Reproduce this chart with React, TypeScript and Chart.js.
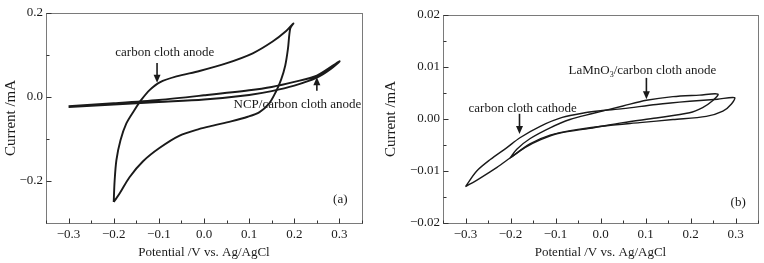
import React, { useEffect, useRef } from 'react';
import { Chart, registerables } from 'chart.js';
Chart.register(...registerables);

// ---------- Panel (a) data ----------
const CC_ANODE_V = [
  -0.2, -0.198, -0.194, -0.185, -0.172, -0.154, -0.139, -0.12, -0.098, -0.061, -0.01, 0.049, 0.108, 0.152, 0.182, 0.198,
  0.191, 0.186, 0.18, 0.171, 0.159, 0.144, 0.123, 0.097, 0.06, 0.02, -0.01, -0.054, -0.098, -0.135, -0.165, -0.187, -0.2,
];
const CC_ANODE_I = [
  -0.25, -0.2, -0.15, -0.103, -0.063, -0.031, -0.007, 0.017, 0.035, 0.049, 0.062, 0.08, 0.104, 0.132, 0.157, 0.175,
  0.163, 0.115, 0.075, 0.042, 0.012, -0.016, -0.036, -0.047, -0.058, -0.068, -0.076, -0.092, -0.121, -0.153, -0.191, -0.23, -0.25,
];
const NCP_V = [-0.3, -0.2, -0.1, 0.0, 0.1, 0.15, 0.2, 0.25, 0.3, 0.28, 0.25, 0.2, 0.15, 0.1, 0.0, -0.1, -0.2, -0.3];
const NCP_I = [-0.022, -0.015, -0.007, 0.004, 0.016, 0.024, 0.036, 0.051, 0.085, 0.066, 0.046, 0.027, 0.014, 0.005, -0.006, -0.012, -0.018, -0.024];

// ---------- Panel (b) data ----------
const CATHODE_V = [
  -0.3, -0.275, -0.245, -0.208, -0.179, -0.134, -0.085, -0.035, 0.0, 0.05, 0.124, 0.198, 0.26, 0.298,
  0.291, 0.272, 0.235, 0.161, 0.087, 0.014, -0.05, -0.112, -0.157, -0.201, -0.23, -0.27, -0.3,
];
const CATHODE_I = [
  -0.013, -0.01, -0.0078, -0.0055, -0.0036, -0.0014, 0.0003, 0.0012, 0.0016, 0.002, 0.0028, 0.0034, 0.0038, 0.0041,
  0.0029, 0.0015, 0.0005, -0.0001, -0.0007, -0.0013, -0.002, -0.0031, -0.0048, -0.0075, -0.0093, -0.0115, -0.013,
];
const LAMNO_V = [
  -0.201, -0.186, -0.157, -0.112, -0.068, -0.02, 0.05, 0.102, 0.161, 0.22, 0.261,
  0.249, 0.227, 0.198, 0.124, 0.05, -0.023, -0.09, -0.134, -0.168, -0.201,
];
const LAMNO_I = [
  -0.0075, -0.0058, -0.0038, -0.0017, -0.0001, 0.001, 0.0025, 0.0036, 0.0043, 0.0046, 0.0048,
  0.0035, 0.0022, 0.0012, 0.0002, -0.0007, -0.0018, -0.0027, -0.004, -0.0055, -0.0075,
];

// ---------- Axes ----------
const X_TICKS = [-0.3, -0.2, -0.1, 0.0, 0.1, 0.2, 0.3];
const X_RANGE = [-0.35, 0.35];
const A_Y_TICKS = [-0.2, 0.0, 0.2];
const A_Y_MINOR = [-0.1, 0.1];
const A_Y_RANGE = [-0.3, 0.2];
const B_Y_TICKS = [-0.02, -0.01, 0.0, 0.01, 0.02];
const B_Y_RANGE = [-0.02, 0.02];

const X_TITLE = 'Potential /V vs. Ag/AgCl';
const Y_TITLE = 'Current /mA';

// ---------- Annotations (data coordinates) ----------
const A_NOTES = [
  { text: 'carbon cloth anode', x: -0.087, y: 0.105 },
  { text: 'NCP/carbon cloth anode', x: 0.207, y: -0.017 },
  { text: '(a)', x: 0.302, y: -0.245 },
];
const A_ARROWS = [
  { x: -0.104, from: 0.081, to: 0.034 },
  { x: 0.25, from: 0.015, to: 0.047 },
];
const B_NOTES = [
  { text: 'LaMnO|3|/carbon cloth anode', x: 0.093, y: 0.0093 },
  { text: 'carbon cloth cathode', x: -0.173, y: 0.0021 },
  { text: '(b)', x: 0.306, y: -0.0161 },
];
const B_ARROWS = [
  { x: 0.102, from: 0.0079, to: 0.0038 },
  { x: -0.18, from: 0.001, to: -0.0029 },
];

const FONT = '"Liberation Serif", "Times New Roman", serif';
const INK = '#1a1a1a';
const FRAME = '#7a7a7a';

const fmt = (d: number) => (v: number) => {
  const s = Math.abs(v) < 1e-9 ? (0).toFixed(d) : Number(v).toFixed(d);
  return s.replace('-', '\u2212');
};

function mids(arr: number[], lo: number, hi: number) {
  const out: number[] = [];
  const step = arr[1] - arr[0];
  for (let v = arr[0] - step / 2; v <= hi + 1e-9; v += step) {
    if (v >= lo - 1e-9) out.push(v);
  }
  return out;
}

function decorPlugin(notes: any[], arrows: any[], yMinor: number[]) {
  return {
    id: 'decor',
    beforeDatasetsDraw(chart: any) {
      const { ctx, scales } = chart;
      const xs = scales.x, ys = scales.y;
      ctx.save();
      ctx.fillStyle = INK;
      ctx.strokeStyle = INK;
      ctx.textBaseline = 'middle';
      for (const n of notes) {
        const cx = xs.getPixelForValue(n.x);
        const cy = ys.getPixelForValue(n.y);
        const parts = String(n.text).split('|');
        if (parts.length === 3) {
          ctx.font = '13px ' + FONT;
          const w1 = ctx.measureText(parts[0]).width;
          const w3 = ctx.measureText(parts[2]).width;
          ctx.font = '8px ' + FONT;
          const w2 = ctx.measureText(parts[1]).width;
          let left = cx - (w1 + w2 + w3) / 2;
          ctx.textAlign = 'left';
          ctx.font = '13px ' + FONT;
          ctx.fillText(parts[0], left, cy);
          ctx.font = '8px ' + FONT;
          ctx.fillText(parts[1], left + w1, cy + 4);
          ctx.font = '13px ' + FONT;
          ctx.fillText(parts[2], left + w1 + w2, cy);
        } else {
          ctx.font = '13px ' + FONT;
          ctx.textAlign = 'center';
          ctx.fillText(n.text, cx, cy);
        }
      }
      for (const a of arrows) {
        const px = xs.getPixelForValue(a.x);
        const p0 = ys.getPixelForValue(a.from);
        const p1 = ys.getPixelForValue(a.to);
        const dir = p1 > p0 ? 1 : -1;
        ctx.lineWidth = 1.6;
        ctx.beginPath();
        ctx.moveTo(px, p0);
        ctx.lineTo(px, p1 - dir * 6);
        ctx.stroke();
        ctx.beginPath();
        ctx.moveTo(px, p1);
        ctx.lineTo(px - 3.5, p1 - dir * 8);
        ctx.lineTo(px + 3.5, p1 - dir * 8);
        ctx.closePath();
        ctx.fill();
      }
      ctx.restore();
    },
    afterDraw(chart: any) {
      const { ctx, chartArea: a, scales } = chart;
      const xs = scales.x, ys = scales.y;
      ctx.save();
      ctx.strokeStyle = FRAME;
      ctx.lineWidth = 1;
      ctx.strokeRect(Math.round(a.left) + 0.5, Math.round(a.top) + 0.5, Math.round(a.right - a.left), Math.round(a.bottom - a.top));
      ctx.strokeStyle = '#333';
      ctx.beginPath();
      const xMajor = xs.ticks.map((t: any) => t.value);
      const xMinor = mids(xMajor, xs.min, xs.max);
      const by = Math.round(a.bottom) + 0.5;
      for (const v of xMajor) {
        const p = Math.round(xs.getPixelForValue(v)) + 0.5;
        ctx.moveTo(p, by); ctx.lineTo(p, by - 5);
      }
      for (const v of xMinor) {
        const p = Math.round(xs.getPixelForValue(v)) + 0.5;
        ctx.moveTo(p, by); ctx.lineTo(p, by - 3);
      }
      const yMajor = ys.ticks.map((t: any) => t.value);
      const lx = Math.round(a.left) + 0.5;
      for (const v of yMajor) {
        const p = Math.round(ys.getPixelForValue(v)) + 0.5;
        ctx.moveTo(lx, p); ctx.lineTo(lx + 5, p);
      }
      for (const v of yMinor) {
        const p = Math.round(ys.getPixelForValue(v)) + 0.5;
        ctx.moveTo(lx, p); ctx.lineTo(lx + 3, p);
      }
      ctx.stroke();
      ctx.restore();
    },
  };
}

function makeConfig(p: {
  series: { v: number[]; i: number[]; w: number }[];
  yRange: number[];
  yTicks: number[];
  yMinor: number[];
  yDec: number;
  yWidth: number;
  top: number;
  right: number;
  notes: any[];
  arrows: any[];
}): any {
  return {
    type: 'scatter',
    data: {
      datasets: p.series.map((s) => ({
        data: s.v.map((v, k) => ({ x: v, y: s.i[k] })),
        showLine: true,
        borderColor: INK,
        borderWidth: s.w,
        pointRadius: 0,
        tension: 0.3,
        fill: false,
      })),
    },
    options: {
      animation: false,
      responsive: false,
      maintainAspectRatio: false,
      layout: { padding: { left: 0, top: p.top, right: p.right, bottom: 0 } },
      plugins: { legend: { display: false }, tooltip: { enabled: false } },
      scales: {
        x: {
          type: 'linear',
          min: X_RANGE[0],
          max: X_RANGE[1],
          afterBuildTicks: (s: any) => { s.ticks = X_TICKS.map((v) => ({ value: v })); },
          afterFit: (s: any) => { s.height = 40; },
          grid: { display: false, drawTicks: false },
          border: { display: false },
          ticks: { callback: fmt(1), font: { family: FONT, size: 13 }, color: INK, padding: 4, maxRotation: 0, autoSkip: false },
          title: { display: true, text: X_TITLE, font: { family: FONT, size: 13 }, color: INK, padding: { top: 0, bottom: 3 } },
        },
        y: {
          type: 'linear',
          min: p.yRange[0],
          max: p.yRange[1],
          afterBuildTicks: (s: any) => { s.ticks = p.yTicks.map((v) => ({ value: v })); },
          afterFit: (s: any) => { s.width = p.yWidth; },
          grid: { display: false, drawTicks: false },
          border: { display: false },
          ticks: { callback: fmt(p.yDec), font: { family: FONT, size: 13 }, color: INK, padding: 3, autoSkip: false },
          title: { display: true, text: Y_TITLE, font: { family: FONT, size: 15 }, color: INK, padding: { top: 2, bottom: 0 } },
        },
      },
    },
    plugins: [decorPlugin(p.notes, p.arrows, p.yMinor)],
  };
}

function Panel({ cfg, left, width }: { cfg: any; left: number; width: number }) {
  const ref = useRef<HTMLCanvasElement>(null);
  useEffect(() => {
    const chart = new Chart(ref.current as HTMLCanvasElement, cfg);
    return () => chart.destroy();
  }, []);
  return (
    <canvas
      ref={ref}
      width={width}
      height={263}
      style={{ position: 'absolute', left, top: 0, width, height: 263, display: 'block' }}
    />
  );
}

export default function App() {
  const cfgA = makeConfig({
    series: [
      { v: CC_ANODE_V, i: CC_ANODE_I, w: 1.9 },
      { v: NCP_V, i: NCP_I, w: 2 },
    ],
    yRange: A_Y_RANGE,
    yTicks: A_Y_TICKS,
    yMinor: A_Y_MINOR,
    yDec: 1,
    yWidth: 46,
    top: 13,
    right: 18,
    notes: A_NOTES,
    arrows: A_ARROWS,
  });
  const cfgB = makeConfig({
    series: [
      { v: CATHODE_V, i: CATHODE_I, w: 1.4 },
      { v: LAMNO_V, i: LAMNO_I, w: 1.4 },
    ],
    yRange: B_Y_RANGE,
    yTicks: B_Y_TICKS,
    yMinor: mids(B_Y_TICKS, B_Y_RANGE[0], B_Y_RANGE[1]),
    yDec: 2,
    yWidth: 63,
    top: 15,
    right: 6,
    notes: B_NOTES,
    arrows: B_ARROWS,
  });
  return (
    <div style={{ position: 'fixed', left: 0, top: 0, width: 764, height: 263, background: '#fff' }}>
      <Panel cfg={cfgA} left={0} width={380} />
      <Panel cfg={cfgB} left={380} width={384} />
    </div>
  );
}
